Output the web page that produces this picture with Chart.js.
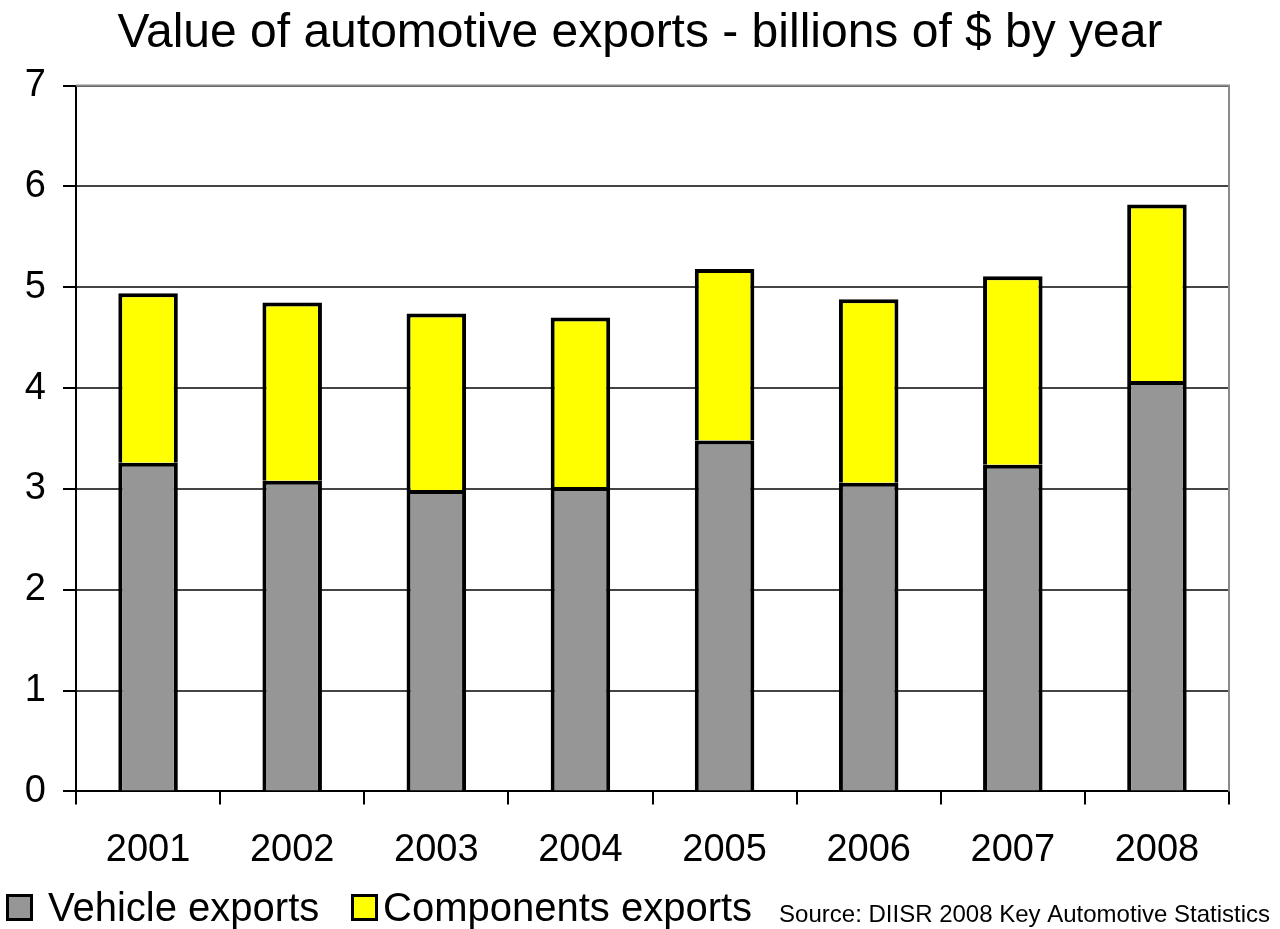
<!DOCTYPE html>
<html>
<head>
<meta charset="utf-8">
<script src="https://cdn.jsdelivr.net/npm/chart.js@4"></script>
<style>
  html, body { margin: 0; padding: 0; background: #fff; }
  #wrap { position: relative; width: 1280px; height: 929px; }
  #legend { position: absolute; left: 0; top: 884px; height: 46px; font: 40px 'Liberation Sans', Arial, sans-serif; color: #000; }
  .item { position: absolute; top: 0; white-space: nowrap; line-height: 46px; }
  .swatch { position: absolute; top: 10px; width: 21px; height: 21px; border: 3px solid #000; }
  .item span.txt { position: absolute; top: 0; white-space: nowrap; }
</style>
</head>
<body>
<div id="wrap">
  <canvas id="exportsChart" width="1280" height="929"></canvas>
  <div id="legend"></div>
</div>
<script>
const years = ['2001', '2002', '2003', '2004', '2005', '2006', '2007', '2008'];
const vehicleExports = [3.26, 3.08, 2.99, 3.02, 3.48, 3.06, 3.24, 4.07];
const componentsExports = [1.68, 1.77, 1.75, 1.68, 1.70, 1.82, 1.87, 1.75];
const yTicks = [0, 1, 2, 3, 4, 5, 6, 7];

const FONT = "'Liberation Sans', Arial, sans-serif";

// frame on top/right of plot area + source note
const extras = {
    id: 'extras',
    beforeDatasetsDraw(chart) {
        const { ctx, chartArea: a } = chart;
        ctx.save();
        ctx.strokeStyle = '#8a8a8a';
        ctx.lineWidth = 2;
        ctx.beginPath();
        ctx.moveTo(a.left, a.top);
        ctx.lineTo(a.right, a.top);
        ctx.lineTo(a.right, a.bottom);
        ctx.stroke();
        ctx.restore();
    },
    afterDraw(chart) {
        const ctx = chart.ctx;
        ctx.save();
        ctx.fillStyle = '#000';
        ctx.font = '24px ' + FONT;
        ctx.textAlign = 'right';
        ctx.textBaseline = 'alphabetic';
        ctx.fillText('Source: DIISR 2008 Key Automotive Statistics', 1270, 922);
        ctx.restore();
    }
};

const ctx = document.getElementById('exportsChart').getContext('2d');
const chart = new Chart(ctx, {
    type: 'bar',
    data: {
        labels: years,
        datasets: [
            {
                label: 'Vehicle exports',
                data: vehicleExports,
                backgroundColor: '#969696',
                borderColor: '#000',
                borderWidth: 4,
                borderSkipped: 'start',
                barPercentage: 0.413,
                categoryPercentage: 1.0
            },
            {
                label: 'Components exports',
                data: componentsExports,
                backgroundColor: '#ffff00',
                borderColor: '#000',
                borderWidth: 4,
                borderSkipped: 'start',
                barPercentage: 0.413,
                categoryPercentage: 1.0
            }
        ]
    },
    options: {
        responsive: false,
        animation: false,
        devicePixelRatio: 1,
        layout: { padding: { left: 0, right: 0, top: 0, bottom: 33 } },
        plugins: {
            title: {
                display: true,
                text: 'Value of automotive exports - billions of $ by year',
                color: '#000',
                font: { family: FONT, size: 48, weight: 'normal' },
                padding: { top: 5, bottom: 23 }
            },
            legend: { display: false },
            tooltip: { enabled: false }
        },
        scales: {
            x: {
                stacked: true,
                grid: {
                    display: true,
                    drawOnChartArea: false,
                    drawTicks: true,
                    tickLength: 13,
                    color: '#000',
                    lineWidth: 2
                },
                border: { color: '#000', width: 2 },
                ticks: {
                    color: '#000',
                    font: { family: FONT, size: 38 },
                    padding: 23
                }
            },
            y: {
                stacked: true,
                min: 0,
                max: 7,
                afterBuildTicks(scale) {
                    scale.ticks = yTicks.map(v => ({ value: v }));
                },
                afterFit(scale) { scale.width = 76; },
                grid: {
                    color: '#444',
                    tickColor: '#000',
                    lineWidth: 2,
                    tickLength: 13
                },
                border: { color: '#000', width: 2 },
                ticks: {
                    color: '#000',
                    font: { family: FONT, size: 38 },
                    padding: 17
                }
            },
            // empty right axis, only reserves the margin right of the plot
            spacer: {
                type: 'linear',
                position: 'right',
                display: true,
                afterFit(scale) { scale.width = 51; },
                grid: { display: false },
                border: { display: false },
                ticks: { display: false }
            }
        }
    },
    plugins: [extras]
});

// legend (HTML), built from the datasets
const legendBox = document.getElementById('legend');
const legendPos = [{ box: 6, text: 48 }, { box: 351, text: 383 }];
chart.data.datasets.forEach((ds, i) => {
    const item = document.createElement('div');
    item.className = 'item';
    item.innerHTML = `<div class="swatch" style="left:${legendPos[i].box}px;background:${ds.backgroundColor}"></div>` +
        `<span class="txt" style="left:${legendPos[i].text}px">${ds.label}</span>`;
    legendBox.appendChild(item);
});
</script>
</body>
</html>
